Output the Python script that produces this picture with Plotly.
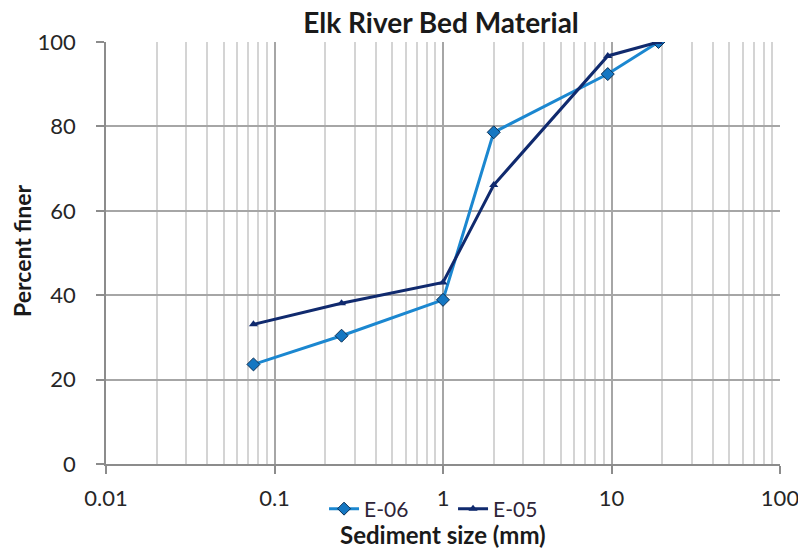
import plotly.graph_objects as go

# sieve sizes (mm) and percent finer
size_e06 = [0.075, 0.25, 1, 2, 9.5, 19]
finer_e06 = [23.6, 30.4, 38.9, 78.6, 92.4, 100]

size_e05 = [0.075, 0.25, 1, 2, 9.5, 19]
finer_e05 = [33.1, 38.1, 43.0, 66.1, 96.7, 100]

x_ticks = [0.01, 0.1, 1, 10, 100]
x_labels = ["0.01", "0.1", "1", "10", "100"]

light_blue = "#1B87D0"
navy = "#102A6E"

fig = go.Figure()
fig.add_trace(go.Scatter(
    x=size_e06, y=finer_e06, name="E-06", mode="lines+markers",
    line=dict(color=light_blue, width=3),
    marker=dict(symbol="diamond", size=10, color="#1577C2",
                line=dict(color="#0B2F55", width=1))))
fig.add_trace(go.Scatter(
    x=size_e05, y=finer_e05, name="E-05", mode="lines+markers",
    line=dict(color=navy, width=3),
    marker=dict(symbol="triangle-up", size=8, color=navy)))

# page body has an 8px margin, so everything is shifted by 8px here
fig.update_layout(
    width=806, height=548,
    margin=dict(l=98, r=34, t=34, b=92, autoexpand=False),
    plot_bgcolor="white", paper_bgcolor="white",
    font=dict(family="Lato", size=22, color="#262626"),
    title=dict(text="<b>Elk River Bed Material</b>", x=433 / 806, xanchor="center",
               y=1 - 15 / 548, yanchor="middle", yref="container",
               font=dict(family="Lato", size=28, color="#1a1a1a")),
    legend=dict(orientation="h", x=0.3235, xanchor="left",
                yref="container", y=1 - 501 / 548, yanchor="middle",
                bgcolor="rgba(0,0,0,0)", font=dict(family="Lato", size=21, color="#2e2438"),
                tracegroupgap=0, entrywidth=84, entrywidthmode="pixels"),
    showlegend=True,
)

fig.add_annotation(text="<b>Sediment size (mm)</b>", xref="paper", yref="paper",
                   x=0.5, y=-0.166, showarrow=False, yanchor="middle",
                   font=dict(family="Lato", size=24, color="#1a1a1a"))
fig.add_annotation(text="<b>Percent finer</b>", xref="paper", yref="paper",
                   x=-0.1246, y=0.505, showarrow=False, textangle=-90,
                   xanchor="center", yanchor="middle",
                   font=dict(family="Lato", size=23, color="#1a1a1a"))

fig.update_xaxes(
    type="log", range=[-2, 2],
    tickvals=x_ticks, ticktext=x_labels,
    showgrid=True, gridcolor="#a6a6a6", gridwidth=1.5,
    minor=dict(dtick="D1", showgrid=True, gridcolor="#d4d4d4", gridwidth=1.5),
    showline=True, linecolor="#8c8c8c", linewidth=1.5,
    ticks="outside", ticklen=8, tickcolor="#8c8c8c", tickwidth=1.5,
    ticklabelstandoff=6,
    zeroline=False, automargin=False,
)
fig.update_yaxes(
    range=[0, 100], tickvals=[0, 20, 40, 60, 80, 100],
    showgrid=True, gridcolor="#a6a6a6", gridwidth=1.5,
    showline=True, linecolor="#8c8c8c", linewidth=1.5,
    ticks="outside", ticklen=8, tickcolor="#8c8c8c", tickwidth=1.5,
    ticklabelstandoff=16,
    zeroline=False, automargin=False,
)

fig.write_html("out.html")
